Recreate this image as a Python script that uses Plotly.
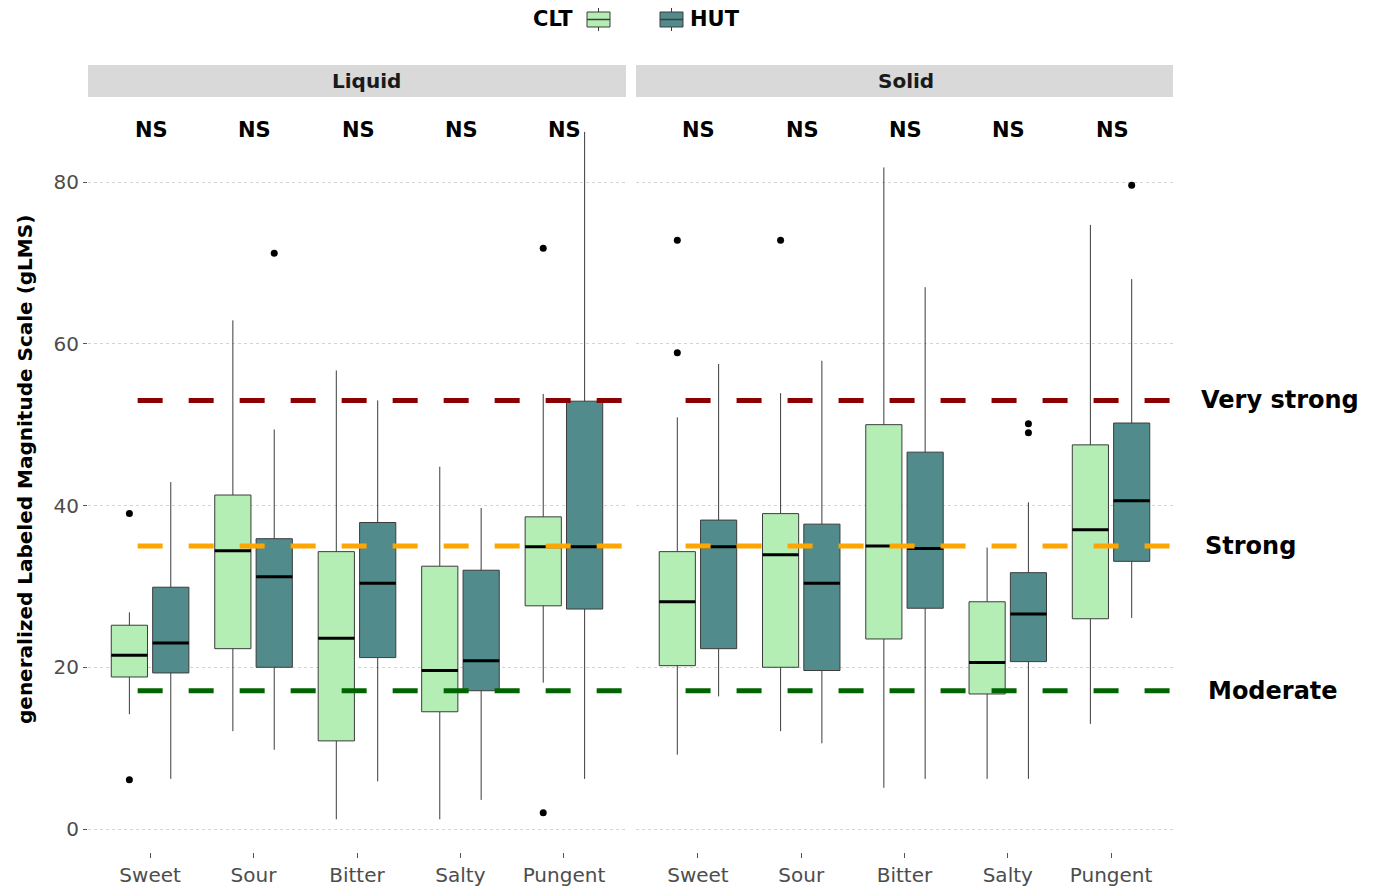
import plotly.graph_objects as go

# ---------------- data ----------------
categories = ["Sweet", "Sour", "Bitter", "Salty", "Pungent"]
facets = ["Liquid", "Solid"]
groups = ["CLT", "HUT"]

# Liquid - CLT
liq_clt_lower = [14.2, 12.1, 1.2, 1.2, 18.1]
liq_clt_q1 = [18.8, 22.3, 10.9, 14.5, 27.6]
liq_clt_median = [21.5, 34.4, 23.6, 19.6, 34.9]
liq_clt_q3 = [25.2, 41.3, 34.3, 32.5, 38.6]
liq_clt_upper = [26.8, 62.9, 56.7, 44.8, 53.8]
liq_clt_outliers = {"Sweet": [39.0, 6.1], "Pungent": [71.8, 2.0]}

# Liquid - HUT
liq_hut_lower = [6.2, 9.8, 5.9, 3.6, 6.2]
liq_hut_q1 = [19.3, 20.0, 21.2, 17.1, 27.2]
liq_hut_median = [23.0, 31.2, 30.4, 20.8, 34.9]
liq_hut_q3 = [29.9, 35.9, 37.9, 32.0, 52.9]
liq_hut_upper = [42.9, 49.4, 53.0, 39.7, 86.2]
liq_hut_outliers = {"Sour": [71.2]}

# Solid - CLT
sol_clt_lower = [9.2, 12.1, 5.1, 6.2, 13.0]
sol_clt_q1 = [20.2, 20.0, 23.5, 16.7, 26.0]
sol_clt_median = [28.1, 33.9, 35.0, 20.6, 37.0]
sol_clt_q3 = [34.3, 39.0, 50.0, 28.1, 47.5]
sol_clt_upper = [50.9, 53.9, 81.8, 34.8, 74.7]
sol_clt_outliers = {"Sweet": [72.8, 58.9], "Sour": [72.8]}

# Solid - HUT
sol_hut_lower = [16.4, 10.6, 6.2, 6.2, 26.1]
sol_hut_q1 = [22.3, 19.6, 27.3, 20.7, 33.1]
sol_hut_median = [34.9, 30.4, 34.7, 26.6, 40.6]
sol_hut_q3 = [38.2, 37.7, 46.6, 31.7, 50.2]
sol_hut_upper = [57.5, 57.9, 67.0, 40.4, 68.0]
sol_hut_outliers = {"Salty": [50.1, 49.0], "Pungent": [79.6]}

# reference intensity levels
ref_levels = [53.0, 35.0, 17.1]
ref_labels = ["Very strong", "Strong", "Moderate"]
significance = ["NS", "NS", "NS", "NS", "NS"]

# ---------------- styling ----------------
PAGE_OFF = 8                      # default body margin of the html page
W, H = 1377 - PAGE_OFF, 892 - PAGE_OFF
FONT = "DejaVu Sans"
colors = {"CLT": "#B4EEB4", "HUT": "#528B8B"}
ref_colors = ["#8B0000", "#FFA500", "#006400"]
offsets = {"CLT": -0.2, "HUT": 0.2}
BOXW = 0.35


def px(x):
    return (x - PAGE_OFF) / W


def py(y):
    return 1 - (y - PAGE_OFF) / H


data = {
    ("Liquid", "CLT"): (liq_clt_lower, liq_clt_q1, liq_clt_median, liq_clt_q3, liq_clt_upper, liq_clt_outliers),
    ("Liquid", "HUT"): (liq_hut_lower, liq_hut_q1, liq_hut_median, liq_hut_q3, liq_hut_upper, liq_hut_outliers),
    ("Solid", "CLT"): (sol_clt_lower, sol_clt_q1, sol_clt_median, sol_clt_q3, sol_clt_upper, sol_clt_outliers),
    ("Solid", "HUT"): (sol_hut_lower, sol_hut_q1, sol_hut_median, sol_hut_q3, sol_hut_upper, sol_hut_outliers),
}
axes = {"Liquid": ("x", "y"), "Solid": ("x2", "y2")}

fig = go.Figure()

for facet in facets:
    xa, ya = axes[facet]
    for g in groups:
        lo, q1, med, q3, up, outl = data[(facet, g)]
        pos = [i + offsets[g] for i in range(len(categories))]
        fig.add_trace(go.Box(
            x=pos, q1=q1, median=med, q3=q3, lowerfence=lo, upperfence=up,
            width=BOXW, fillcolor=colors[g],
            line=dict(color="#3C3C3C", width=1), whiskerwidth=0,
            boxpoints=False, xaxis=xa, yaxis=ya, showlegend=False,
            hoverinfo="skip", name=g,
        ))
        # thick black median lines
        mx, my = [], []
        for p, m in zip(pos, med):
            mx += [p - BOXW / 2, p + BOXW / 2, None]
            my += [m, m, None]
        fig.add_trace(go.Scatter(x=mx, y=my, mode="lines",
                                 line=dict(color="black", width=3),
                                 xaxis=xa, yaxis=ya, showlegend=False, hoverinfo="skip"))
        # outliers
        ox, oy = [], []
        for cat, vals in outl.items():
            i = categories.index(cat)
            for v in vals:
                ox.append(i + offsets[g])
                oy.append(v)
        fig.add_trace(go.Scatter(x=ox, y=oy, mode="markers",
                                 marker=dict(color="black", size=7),
                                 xaxis=xa, yaxis=ya, showlegend=False, hoverinfo="skip"))
    # dashed reference lines
    for lvl, col in zip(ref_levels, ref_colors):
        fig.add_trace(go.Scatter(x=[-0.12, 4.6], y=[lvl, lvl], mode="lines",
                                 line=dict(color=col, width=5, dash="25px,26px"),
                                 xaxis=xa, yaxis=ya, showlegend=False, hoverinfo="skip"))
    # significance labels
    for i, s in enumerate(significance):
        fig.add_annotation(x=i + 0.01, y=86.4, xref=xa, yref=ya, text="<b>%s</b>" % s,
                           xanchor="center", yanchor="middle",
                           showarrow=False, font=dict(family=FONT, size=21, color="black"))

# axes
xcommon = dict(range=[-0.6, 4.6], tickmode="array", tickvals=list(range(len(categories))),
               ticktext=categories, ticks="outside", ticklen=5, tickcolor="#555555",
               tickfont=dict(family=FONT, size=20, color="#4D4D4D"),
               showgrid=False, zeroline=False, showline=False, automargin=False)
ydomain = [py(852), py(98)]
ycommon = dict(range=[-2.84, 90.39], tickmode="array", tickvals=[0, 20, 40, 60, 80],
               showgrid=True, gridcolor="#D3D3D3", griddash="dot", gridwidth=1,
               zeroline=False, showline=False, automargin=False, domain=ydomain)
fig.update_layout(
    xaxis=dict(domain=[px(88), px(626)], anchor="y", **xcommon),
    xaxis2=dict(domain=[px(636), px(1173)], anchor="y2", **xcommon),
    yaxis=dict(anchor="x", ticks="outside", ticklen=4, tickcolor="#555555",
               tickfont=dict(family=FONT, size=20, color="#4D4D4D"), **ycommon),
    yaxis2=dict(anchor="x2", matches="y", showticklabels=False, ticks="", **ycommon),
)

# facet strips
shapes = []
annotations = []
for facet, (x0, x1), tx in zip(facets, [(88, 626), (636, 1173)], [366, 906]):
    shapes.append(dict(type="rect", xref="paper", yref="paper", x0=px(x0), x1=px(x1),
                       y0=py(97), y1=py(65), fillcolor="#D9D9D9", line=dict(width=0), layer="below"))
    annotations.append(dict(x=px(tx), y=py(81), xref="paper", yref="paper",
                            xanchor="center", yanchor="middle",
                            text="<b>%s</b>" % facet, showarrow=False,
                            font=dict(family=FONT, size=20, color="#1A1A1A")))

# right-side level labels
for lvl, lab, xl in zip(ref_levels, ref_labels, [1199, 1203, 1206]):
    annotations.append(dict(x=px(xl), y=lvl, xref="paper", yref="y", xanchor="left", yanchor="middle",
                            text="<b>%s</b>" % lab, showarrow=False,
                            font=dict(family=FONT, size=24, color="black")))

# y-axis title
annotations.append(dict(x=px(25), y=py(470), xref="paper", yref="paper",
                        xanchor="center", yanchor="middle",
                        text="<b>generalized Labeled Magnitude Scale (gLMS)</b>",
                        textangle=-90, showarrow=False,
                        font=dict(family=FONT, size=20, color="black")))

# legend (manual, ggplot style)
annotations.append(dict(x=px(575), y=py(19), xref="paper", yref="paper", xanchor="right", yanchor="middle",
                        text="<b>CLT</b>", showarrow=False, font=dict(family=FONT, size=21, color="black")))
annotations.append(dict(x=px(688), y=py(19), xref="paper", yref="paper", xanchor="left", yanchor="middle",
                        text="<b>HUT</b>", showarrow=False, font=dict(family=FONT, size=21, color="black")))
for g, (kx0, kx1) in zip(groups, [(587, 610), (660, 683)]):
    cx = (kx0 + kx1) / 2
    shapes.append(dict(type="line", xref="paper", yref="paper", x0=px(cx), x1=px(cx),
                       y0=py(31), y1=py(8), line=dict(color="#3C3C3C", width=1)))
    shapes.append(dict(type="rect", xref="paper", yref="paper", x0=px(kx0), x1=px(kx1),
                       y0=py(27), y1=py(12), fillcolor=colors[g], line=dict(color="#3C3C3C", width=1)))
    shapes.append(dict(type="line", xref="paper", yref="paper", x0=px(kx0), x1=px(kx1),
                       y0=py(19.5), y1=py(19.5), line=dict(color="#3C3C3C", width=1.5)))

fig.update_layout(
    width=W, height=H, margin=dict(l=0, r=0, t=0, b=0),
    paper_bgcolor="white", plot_bgcolor="white",
    shapes=shapes, annotations=list(fig.layout.annotations) + annotations,
    showlegend=False, boxmode="overlay",
    font=dict(family=FONT),
)

fig.write_html("out.html")
